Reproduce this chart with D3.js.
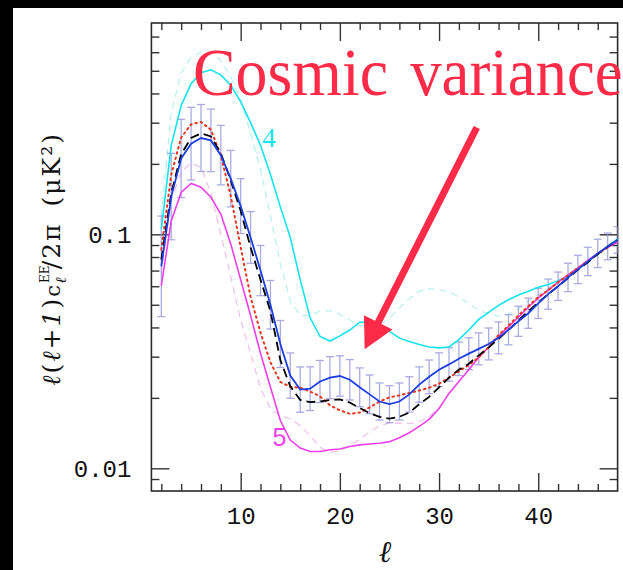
<!DOCTYPE html>
<html><head><meta charset="utf-8">
<script src="https://cdn.jsdelivr.net/npm/d3@7"></script>
<style>html,body{margin:0;padding:0;background:#000;} svg{display:block}</style>
</head><body>
<svg id="c" width="623" height="570"></svg>
<script>
// ---- data ----
const ells = [2,3,4,5,6,7,8,9,10,11,12,13,14,15,16,17,18,19,20,21,22,23,24,25,26,27,28,29,30,31,32,33,34,35,36,37,38,39,40,41,42,43,44,45,46,47,48];
const model4 = [0.105,0.24,0.355,0.44,0.49,0.505,0.48,0.434,0.368,0.30,0.24,0.18,0.131,0.097,0.064,0.044,0.0366,0.035,0.0368,0.039,0.0421,0.0422,0.041,0.0385,0.036,0.0348,0.0338,0.033,0.0327,0.033,0.0355,0.039,0.0433,0.0464,0.0497,0.0525,0.055,0.0571,0.0594,0.061,0.0634,0.0663,0.0711,0.0762,0.0824,0.0887,0.0955];
const model4b = [0.12,0.33,0.49,0.57,0.60,0.60,0.555,0.47,0.378,0.27,0.19,0.12,0.075,0.052,0.045,0.045,0.047,0.047,0.0455,0.043,0.041,0.0395,0.041,0.0438,0.0485,0.053,0.0571,0.0585,0.058,0.0568,0.0539,0.0505,0.0474,0.0457,0.0448,0.0457,0.048,0.052,0.0555,0.059,0.0628,0.0663,0.071,0.076,0.082,0.0887,0.0955];
const fiducial = [0.073,0.145,0.211,0.244,0.258,0.252,0.218,0.173,0.132,0.097,0.07,0.05,0.034,0.0249,0.0217,0.0219,0.0235,0.0244,0.0248,0.0239,0.0222,0.0207,0.0193,0.0188,0.0193,0.0207,0.0228,0.0246,0.0264,0.0278,0.0294,0.0309,0.0324,0.034,0.0361,0.0391,0.0425,0.046,0.0507,0.0555,0.060,0.0654,0.0708,0.0766,0.0829,0.0888,0.0946];
const blackDash = [0.078,0.15,0.22,0.258,0.27,0.262,0.222,0.17,0.126,0.088,0.064,0.047,0.029,0.0224,0.0196,0.0192,0.0193,0.0196,0.0197,0.0191,0.0181,0.0172,0.0166,0.0163,0.0166,0.0173,0.0188,0.0202,0.0222,0.0244,0.0264,0.028,0.0304,0.0328,0.0358,0.039,0.0429,0.0469,0.0512,0.0555,0.060,0.065,0.0705,0.076,0.0824,0.0887,0.0946];
const redDot = [0.086,0.18,0.259,0.295,0.302,0.28,0.217,0.146,0.088,0.054,0.038,0.0284,0.0234,0.0223,0.0221,0.0213,0.0203,0.0186,0.0177,0.0171,0.0173,0.0182,0.0193,0.0201,0.0205,0.021,0.0215,0.0221,0.023,0.0244,0.026,0.0276,0.0298,0.033,0.0371,0.0407,0.045,0.0493,0.054,0.0577,0.0624,0.0668,0.0717,0.0766,0.0824,0.088,0.0946];
const model5 = [0.0603,0.114,0.151,0.165,0.159,0.144,0.122,0.091,0.064,0.045,0.031,0.0222,0.016,0.0132,0.0122,0.0118,0.0118,0.012,0.0121,0.0124,0.0126,0.0127,0.0128,0.013,0.0135,0.0142,0.0151,0.0162,0.018,0.0209,0.0235,0.0264,0.0298,0.033,0.0367,0.0403,0.0443,0.0488,0.0534,0.0577,0.0624,0.0671,0.0719,0.0773,0.0829,0.0879,0.0927];
const model5b = [0.068,0.14,0.185,0.202,0.193,0.15,0.10,0.066,0.043,0.031,0.022,0.018,0.0167,0.0163,0.0152,0.0138,0.0123,0.0117,0.0119,0.0125,0.0133,0.0143,0.0152,0.0156,0.0156,0.0155,0.0158,0.0166,0.0182,0.0209,0.0235,0.0264,0.0298,0.033,0.0367,0.0403,0.0443,0.0488,0.0534,0.0577,0.0624,0.0671,0.0719,0.0773,0.0829,0.0879,0.0927];
const errFrac = [0.64,0.53,0.47,0.43,0.39,0.36,0.34,0.32,0.31,0.29,0.28,0.27,0.26,0.25,0.25,0.24,0.23,0.23,0.22,0.22,0.21,0.21,0.20,0.20,0.20,0.19,0.19,0.18,0.18,0.18,0.18,0.17,0.17,0.17,0.17,0.16,0.16,0.16,0.16,0.16,0.15,0.15,0.15,0.15,0.15,0.14,0.14];
const xMajor = [10,20,30,40];
const xMinor = [2,4,6,8,12,14,16,18,22,24,26,28,32,34,36,38,42,44,46];
const yMajor = [0.01,0.1];
const yMajorLabels = ["0.01","0.1"];
const yMinor = [0.009,0.02,0.03,0.04,0.05,0.06,0.07,0.08,0.09,0.2,0.3,0.4,0.5,0.6,0.7];
const annotWords = ["Cosmic","variance"];
const annotWordStart = [5.2, 27.1];
const annotWordEnd = [24.85, 48.5];
const annotBaseline = 0.393;
const arrowFrom = [33.8, 0.286];
const arrowTo = [22.5, 0.0323];
const label4Pos = [12.85, 0.236];
const label5Pos = [13.9, 0.0124];

// ---- drawing ----
const W=623,H=570;
const svg=d3.select("#c");
svg.append("rect").attr("width",W).attr("height",H).attr("fill","#000");
svg.append("rect").attr("x",13).attr("y",8).attr("width",W-13).attr("height",H-8).attr("fill","#fff");

const x=d3.scaleLinear().domain([1,48]).range([151.4,617.6]);
const y=d3.scaleLog().domain([0.008,0.8]).range([491,23]);
const tickFont = "'Liberation Mono', monospace";

function styleAxis(g){
  g.select(".domain").remove();
  g.selectAll(".tick line").attr("stroke","#333").attr("stroke-width",1.4);
  g.selectAll("text").attr("fill","#111").style("font-family",tickFont).style("font-size","24px");
}
// bottom
svg.append("g").attr("transform","translate(0,491)")
  .call(d3.axisBottom(x).tickValues(xMajor).tickSizeInner(-18).tickSizeOuter(0).tickPadding(16).tickFormat(d3.format("d"))).call(styleAxis);
svg.append("g").attr("transform","translate(0,491)")
  .call(d3.axisBottom(x).tickValues(xMinor).tickSizeInner(-7).tickSizeOuter(0).tickFormat("")).call(styleAxis);
// top
svg.append("g").attr("transform","translate(0,23)")
  .call(d3.axisTop(x).tickValues(xMajor).tickSizeInner(-18).tickSizeOuter(0).tickFormat("")).call(styleAxis);
svg.append("g").attr("transform","translate(0,23)")
  .call(d3.axisTop(x).tickValues(xMinor).tickSizeInner(-7).tickSizeOuter(0).tickFormat("")).call(styleAxis);
// left
svg.append("g").attr("transform","translate(151.4,0)")
  .call(d3.axisLeft(y).tickValues(yMajor).tickSizeInner(-18).tickSizeOuter(0).tickPadding(20).tickFormat((d,i)=>yMajorLabels[i])).call(styleAxis);
svg.append("g").attr("transform","translate(151.4,0)")
  .call(d3.axisLeft(y).tickValues(yMinor).tickSizeInner(-8).tickSizeOuter(0).tickFormat("")).call(styleAxis);
// right
svg.append("g").attr("transform","translate(617.6,0)")
  .call(d3.axisRight(y).tickValues(yMajor).tickSizeInner(-18).tickSizeOuter(0).tickFormat("")).call(styleAxis);
svg.append("g").attr("transform","translate(617.6,0)")
  .call(d3.axisRight(y).tickValues(yMinor).tickSizeInner(-8).tickSizeOuter(0).tickFormat("")).call(styleAxis);

// frame
svg.append("rect").attr("x",x(1)).attr("y",y(0.8)).attr("width",x(48)-x(1)).attr("height",y(0.008)-y(0.8))
  .attr("fill","none").attr("stroke","#2a2a2a").attr("stroke-width",1.6);

// plot clip
svg.append("clipPath").attr("id","pc").append("rect").attr("x",x(1)).attr("y",y(0.8)).attr("width",x(48)-x(1)).attr("height",y(0.008)-y(0.8));
const plot = svg.append("g").attr("clip-path","url(#pc)");

const mk = arr => ells.map((l,i)=>({l, v:arr[i]}));
const line = d3.line().x(d=>x(d.l)).y(d=>y(d.v));

// faint dashed models
plot.append("path").datum(mk(model4b)).attr("d",line).attr("fill","none").attr("stroke","#aef0f2").attr("stroke-width",1.1).attr("stroke-dasharray","7,5");
plot.append("path").datum(mk(model5b)).attr("d",line).attr("fill","none").attr("stroke","#f2b8f0").attr("stroke-width",1.1).attr("stroke-dasharray","7,5");

// error bars
const eb = plot.append("g").attr("stroke","rgb(150,150,222)").attr("stroke-width",1.3).attr("opacity",0.8);
ells.forEach((l,i)=>{
  const v=fiducial[i], e=errFrac[i];
  const hi=v*(1+e), lo=v/(1+e), cx=x(l);
  eb.append("line").attr("x1",cx).attr("x2",cx).attr("y1",y(hi)).attr("y2",y(lo));
  eb.append("line").attr("x1",cx-4).attr("x2",cx+4).attr("y1",y(hi)).attr("y2",y(hi));
  eb.append("line").attr("x1",cx-4).attr("x2",cx+4).attr("y1",y(lo)).attr("y2",y(lo));
});

plot.append("path").datum(mk(model4)).attr("d",line).attr("fill","none").attr("stroke","#12e4ee").attr("stroke-width",1.6);
plot.append("path").datum(mk(model5)).attr("d",line).attr("fill","none").attr("stroke","#ee3fea").attr("stroke-width",1.6);
plot.append("path").datum(mk(redDot)).attr("d",line).attr("fill","none").attr("stroke","#e8361e").attr("stroke-width",2).attr("stroke-dasharray","1.6,3.8").attr("stroke-linecap","round");
plot.append("path").datum(mk(blackDash)).attr("d",line).attr("fill","none").attr("stroke","#000").attr("stroke-width",1.8).attr("stroke-dasharray","9,5");
plot.append("path").datum(mk(fiducial)).attr("d",line).attr("fill","none").attr("stroke","#1b3fe0").attr("stroke-width",1.8);

// model labels
svg.append("text").attr("x",x(label4Pos[0])).attr("y",y(label4Pos[1])).attr("text-anchor","middle")
  .style("font-family","'Liberation Serif', serif").style("font-size","27px").attr("fill","#12e4ee").text("4");
svg.append("text").attr("x",x(label5Pos[0])).attr("y",y(label5Pos[1])).attr("text-anchor","middle")
  .style("font-family","'Liberation Sans', sans-serif").style("font-size","25px").attr("fill","#ee3fea").text("5");

// annotation
const red="#fd2b48";
const at = svg.append("text").attr("y",y(annotBaseline))
  .style("font-family","'Liberation Serif', serif").style("font-size","67px").attr("fill",red);
annotWords.forEach((w,i)=>{
  at.append("tspan").attr("x",x(annotWordStart[i])).attr("textLength",x(annotWordEnd[i])-x(annotWordStart[i]))
    .attr("lengthAdjust","spacingAndGlyphs").text(w);
});
{
  const x0=x(arrowFrom[0]), y0=y(arrowFrom[1]), x1=x(arrowTo[0]), y1=y(arrowTo[1]);
  const dx=x1-x0, dy=y1-y0, L=Math.hypot(dx,dy), ux=dx/L, uy=dy/L, px=-uy, py=ux;
  const hl=30, hw=16;
  const bx=x1-ux*hl, by=y1-uy*hl;
  svg.append("line").attr("x1",x0).attr("y1",y0).attr("x2",bx+ux*2).attr("y2",by+uy*2).attr("stroke",red).attr("stroke-width",7);
  svg.append("path").attr("d",`M${x1},${y1}L${bx+px*hw},${by+py*hw}L${bx-px*hw},${by-py*hw}Z`).attr("fill",red);
}

// axis titles
svg.append("text").attr("x",385).attr("y",562).attr("text-anchor","middle")
  .style("font-family","'DejaVu Serif', serif").style("font-style","italic").style("font-size","30px").attr("fill","#111").text("ℓ");

const yl = svg.append("text").attr("transform","translate(60,259) rotate(-90)").attr("text-anchor","middle")
  .style("font-family","'DejaVu Serif', serif").style("font-size","25px").style("letter-spacing","2px").attr("fill","#111");
yl.append("tspan").style("font-style","italic").text("ℓ");
yl.append("tspan").text("(");
yl.append("tspan").style("font-style","italic").text("ℓ");
yl.append("tspan").text("+");
yl.append("tspan").style("font-style","italic").text("1");
yl.append("tspan").text(")");
yl.append("tspan").style("font-size","21px").text("c");
yl.append("tspan").attr("dy",-11).style("font-size","12px").style("letter-spacing","0px").text("EE");
yl.append("tspan").attr("dx",-18).attr("dy",17).style("font-size","15px").style("font-style","italic").text("ℓ");
yl.append("tspan").attr("dx",6).attr("dy",-6).text("/2π");
yl.append("tspan").attr("dx",16).text("(μK²)");
</script>
</body></html>
